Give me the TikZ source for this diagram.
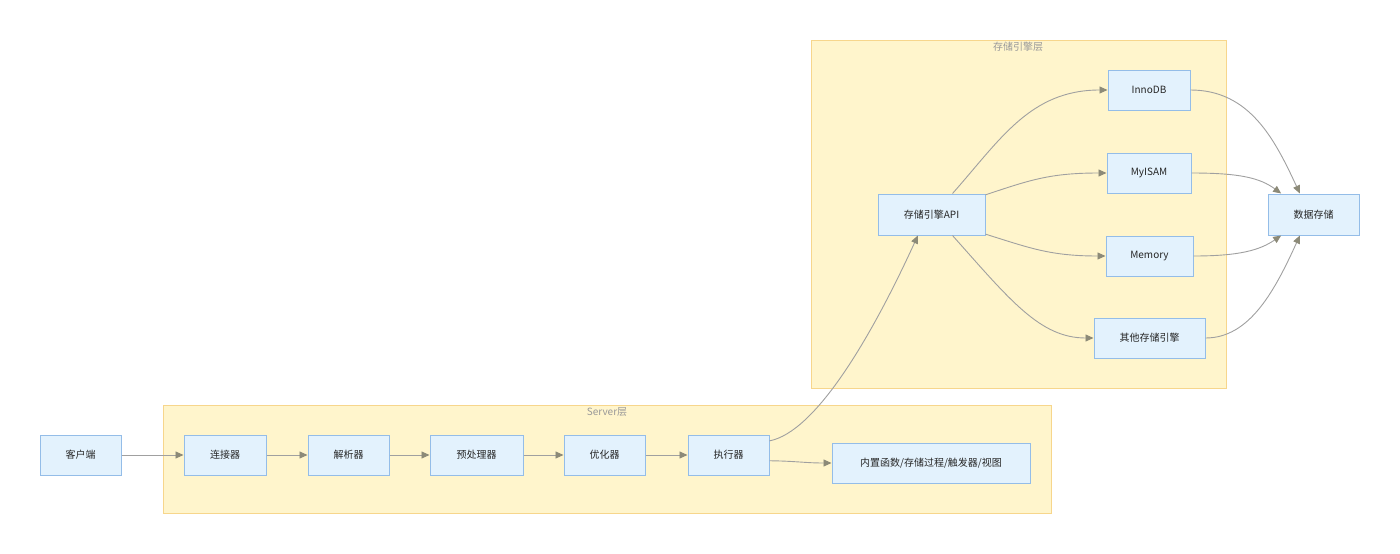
\documentclass[tikz,border=0pt]{standalone}
\usepackage{fontspec}
\setmainfont{Noto Sans CJK SC}
\usetikzlibrary{positioning,arrows.meta}
\definecolor{nodofill}{HTML}{E3F2FD}
\definecolor{nodobordo}{HTML}{94BDE8}
\definecolor{stratofill}{HTML}{FFF5CC}
\definecolor{stratobordo}{HTML}{F7D68C}
\definecolor{grigiolinea}{HTML}{A0A0A0}
\definecolor{punta}{HTML}{8C8A78}
\tikzset{
  blocco/.style={draw=nodobordo, fill=nodofill, line width=1pt, minimum height=40pt,
    inner sep=0pt, text=black!85, font=\fontsize{10}{12}\selectfont},
  strato/.style={draw=stratobordo, fill=stratofill, line width=1pt},
  etichetta/.style={text=black!40, font=\fontsize{10}{12}\selectfont},
  freccia/.style={draw=grigiolinea, line width=0.9pt,
    -{Triangle[length=8pt,width=7pt,color=punta]}}
}

\begin{document}
\begin{tikzpicture}[x=1pt, y=-1pt]
  \useasboundingbox (0,0) rectangle (1400,554);

  % Strati
  \draw[strato] (163,405) rectangle (1051,513);
  \node[etichetta] (lserver) at (607,412) {Server层};
  \draw[strato] (811,40) rectangle (1226,388);
  \node[etichetta] (lmotore) at (1018,47) {存储引擎层};

  % Nodi principali
  \node[blocco, minimum width=81pt] (client) at (80.5,455) {客户端};
  \node[blocco, minimum width=82pt, right=62pt of client] (conn) {连接器};
  \node[blocco, minimum width=81pt, right=41pt of conn] (parser) {解析器};
  \node[blocco, minimum width=93pt, right=40pt of parser] (prep) {预处理器};
  \node[blocco, minimum width=81pt, right=40pt of prep] (optim) {优化器};
  \node[blocco, minimum width=81pt, right=42pt of optim] (exec) {执行器};
  \node[blocco, minimum width=198pt] (builtin) at (931,463) {内置函数/存储过程/触发器/视图};

  \node[blocco, minimum width=107pt, minimum height=41pt] (api) at (931.5,214.5) {存储引擎API};
  \node[blocco, minimum width=82pt] (innodb) at (1149,90) {InnoDB};
  \node[blocco, minimum width=84pt] (myisam) at (1149,173) {MyISAM};
  \node[blocco, minimum width=87pt] (memory) at (1149.5,256) {Memory};
  \node[blocco, minimum width=111pt] (altri) at (1149.5,338) {其他存储引擎};
  \node[blocco, minimum width=91pt, minimum height=41pt] (dati) at (1313.5,214.5) {数据存储};

  % Frecce
  \draw[freccia] (client) -- (conn);
  \draw[freccia] (conn) -- (parser);
  \draw[freccia] (parser) -- (prep);
  \draw[freccia] (prep) -- (optim);
  \draw[freccia] (optim) -- (exec);
  \draw[freccia] (exec.19) .. controls (815,432) and (870,340) .. (api.237);
  \draw[freccia] (exec.352) .. controls (795,461) and (805,463) .. (builtin.west);

  \draw[freccia] (api.45) .. controls (1000,140) and (1030,90) .. (innodb.west);
  \draw[freccia] (api.20) .. controls (1030,180) and (1050,173) .. (myisam.west);
  \draw[freccia] (api.340) .. controls (1030,248) and (1050,256) .. (memory.west);
  \draw[freccia] (api.315) .. controls (1010,300) and (1040,338) .. (altri.west);

  \draw[freccia] (innodb.east) .. controls (1250,90) and (1275,140) .. (dati.123);
  \draw[freccia] (myisam.east) .. controls (1240,173) and (1260,178) .. (dati.147);
  \draw[freccia] (memory.east) .. controls (1240,256) and (1260,250) .. (dati.213);
  \draw[freccia] (altri.east) .. controls (1250,338) and (1275,290) .. (dati.237);
\end{tikzpicture}
\end{document}
